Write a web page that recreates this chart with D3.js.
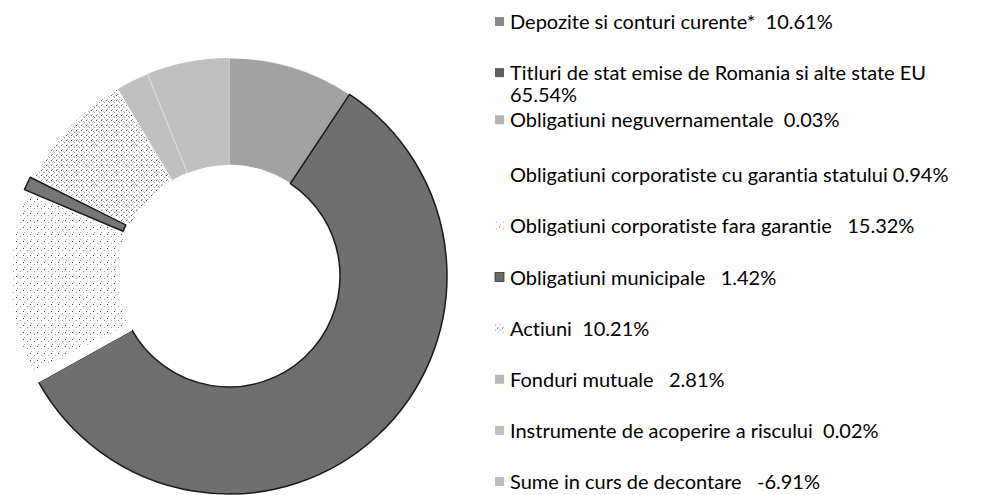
<!DOCTYPE html>
<html>
<head>
<meta charset="utf-8">
<script src="https://cdn.jsdelivr.net/npm/d3@7"></script>
<style>
  html, body { margin: 0; padding: 0; background: #fff; }
  text { font-family: Lato, "Open Sans", sans-serif; fill: #000; white-space: pre;
         font-variant-ligatures: none; }
</style>
</head>
<body>
<div id="chart"></div>
<script>
// structure of the portfolio, percent of assets
var labels = [
  "Depozite si conturi curente*",
  "Titluri de stat emise de Romania si alte state EU",
  "Obligatiuni neguvernamentale",
  "Obligatiuni corporatiste cu garantia statului",
  "Obligatiuni corporatiste fara garantie",
  "Obligatiuni municipale",
  "Actiuni",
  "Fonduri mutuale",
  "Instrumente de acoperire a riscului",
  "Sume in curs de decontare"
];
var values = [10.61, 65.54, 0.03, 0.94, 15.32, 1.42, 10.21, 2.81, 0.02, -6.91];
// blanks between name and value as printed in the legend
var gaps = ["  ", "\n", "  ", " ", "   ", "   ", "  ", "   ", "  ", "   "];

var width = 987, height = 495;
var cx = 229, cy = 276, outerR = 218, innerR = 111;

var fills = ["#a2a2a2", "#6f6f6f", "#b0b0b0", "#ffffff", "url(#dotsSparse)",
  "#767676", "url(#dotsDense)", "#c0c0c0", "#c0c0c0", "#c0c0c0"];
var swatch = ["#8a8a8a", "#5e5e5e", "#b5b5b5", "#ffffff", "url(#dotsSparse)",
  "#6a6a6a", "url(#dotsDense)", "#b8b8b8", "#c0c0c0", "#bdbdbd"];

var locale = d3.formatLocale({ decimal: ".", thousands: ",", grouping: [3], currency: ["", ""], minus: "-" });
var fmt = locale.format(".2f");

var svg = d3.select("#chart").append("svg")
  .attr("width", width)
  .attr("height", height);

var defs = svg.append("defs");

function dotPattern(id, size, dots) {
  var p = defs.append("pattern")
    .attr("id", id)
    .attr("patternUnits", "userSpaceOnUse")
    .attr("width", size)
    .attr("height", size);
  p.append("rect").attr("width", size).attr("height", size).attr("fill", "#fff");
  dots.forEach(function (d) {
    p.append("rect").attr("x", d[0]).attr("y", d[1])
      .attr("width", 1).attr("height", 1).attr("fill", d[2]);
  });
}
dotPattern("dotsSparse", 7, [[1, 2, "#9a9a9a"], [5, 5, "#b0b0b0"], [4, 0, "#444"]]);
dotPattern("dotsDense", 5, [[0, 1, "#999"], [3, 3, "#aaa"], [2, 4, "#555"], [4, 0, "#bbb"]]);

var pie = d3.pie()
  .sort(null)
  .value(function (d) { return Math.abs(d); });

var arc = d3.arc().innerRadius(innerR).outerRadius(outerR);

var arcs = pie(values);

var ring = svg.append("g").attr("transform", "translate(" + cx + "," + cy + ")");

ring.selectAll("path.slice")
  .data(arcs)
  .enter()
  .append("path")
  .attr("class", "slice")
  .attr("transform", function (d, i) {
    if (i !== 5) return null;
    // municipal bonds slice is pulled out a little
    var a = (d.startAngle + d.endAngle) / 2;
    return "translate(" + (Math.sin(a) * 4) + "," + (-Math.cos(a) * 4) + ")";
  })
  .attr("d", function (d, i) {
    if (i === 5) {
      return d3.arc().innerRadius(innerR).outerRadius(outerR)
        .startAngle(d.startAngle + 0.008).endAngle(d.endAngle - 0.008)();
    }
    return arc(d);
  })
  .attr("fill", function (d, i) { return fills[i]; })
  .attr("stroke", function (d, i) {
    if (i === 1 || i === 5) return "#1a1a1a";
    return (i === 8 || i === 9) ? "none" : "#fff";
  })
  .attr("stroke-width", function (d, i) { return (i === 1 || i === 5) ? 1.5 : 0.8; })
  .attr("stroke-linejoin", "round");

// legend
var legend = svg.append("g");
var rowY = d3.scaleLinear().domain([0, labels.length - 1]).range([22, 482]);
function entryY(i) { return i === 2 ? rowY(i) - 4 : rowY(i); }

var fontSize = 20;
var entries = legend.selectAll("g.entry")
  .data(labels)
  .enter()
  .append("g")
  .attr("class", "entry")
  .attr("transform", function (d, i) { return "translate(495," + entryY(i) + ")"; });

entries.append("rect")
  .attr("x", 0)
  .attr("y", -5)
  .attr("width", 9)
  .attr("height", 9)
  .attr("fill", function (d, i) { return swatch[i]; })
  .attr("stroke", function (d, i) { return i === 5 ? "#333" : "none"; })
  .attr("stroke-width", 0.8);

entries.each(function (d, i) {
  var g = d3.select(this);
  var lines = (d + gaps[i] + fmt(values[i]) + "%").split("\n");
  lines.forEach(function (line, k) {
    g.append("text")
      .attr("x", 15)
      .attr("y", 7 + k * 22)
      .style("font-size", fontSize + "px")
      .text(line);
  });
});
</script>
</body>
</html>
